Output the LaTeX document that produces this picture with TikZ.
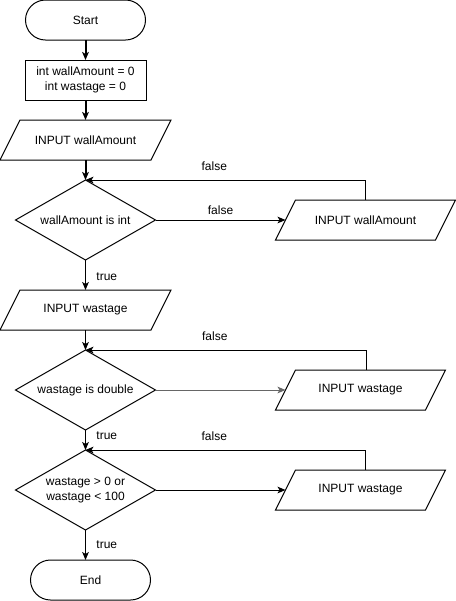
\documentclass[tikz,border=0pt]{standalone}
\usepackage{fontspec}
\setmainfont{Liberation Sans}
\usetikzlibrary{arrows.meta,positioning,shapes.geometric}

\begin{document}
\begin{tikzpicture}[x=0.75pt,y=-0.75pt,node distance=15pt,
    font=\fontsize{9}{11}\selectfont,
    term/.style={draw,rounded corners=15pt,minimum width=90pt,minimum height=30pt,
                 outer sep=0pt,line width=.75pt},
    proc/.style={draw,minimum width=90.75pt,minimum height=30pt,align=center,
                 outer sep=0pt,line width=.75pt},
    io/.style={minimum height=30pt,outer sep=0pt},
    dec/.style={draw,diamond,aspect=1.75,minimum width=105pt,minimum height=60pt,
                inner sep=0pt,outer sep=0pt,align=center,line width=.75pt},
    arr/.style={-{Stealth[length=6pt,width=5pt,inset=1.5pt]},line width=.75pt},
    bold/.style={arr,line width=1.5pt},
    lbl/.style={font=\fontsize{9}{11}\selectfont}]
    \useasboundingbox (0,0) rectangle (456,601);
    \node[term] (start) at (85.5,20) {Start};
    \node[proc,below=of start] (init) {int wallAmount = 0\\int wastage = 0};
    \node[io,minimum width=113.25pt,below=of init] (in1) {INPUT wallAmount};
    \node[dec,below=of in1] (dec1) {wallAmount is int};
    \node[io,minimum width=120pt,right=97.5pt of dec1] (re1) {INPUT wallAmount};
    \node[io,minimum width=113.25pt,below=22.5pt of dec1] (in2) {INPUT wastage};
    \node[dec,below=of in2] (dec2) {wastage is double};
    \node[io,minimum width=112.5pt,right=97.5pt of dec2] (re2) {INPUT wastage};
    \node[dec,below=of dec2] (dec3) {wastage > 0 or\\wastage < 100};
    \node[io,minimum width=112.5pt,right=97.5pt of dec3] (re3) {INPUT wastage};
    \node[term,below=22.5pt of dec3,xshift=3.75pt] (end) {End};
    % slanted outline of the input boxes
    \foreach \n in {in1,re1,in2,re2,re3}
      \draw[line width=.75pt] ([xshift=-7.5pt]\n.south west) -- ([xshift=7.5pt]\n.north west)
        -- ([xshift=7.5pt]\n.north east) -- ([xshift=-7.5pt]\n.south east) -- cycle;
    \draw[bold] (start) -- (init);
    \draw[bold] (init) -- (in1);
    \draw[bold] (in1) -- (dec1);
    \draw[arr] (dec1) -- node[lbl,above=0pt]{false} (re1);
    \draw[arr] (re1.north) |- node[lbl,above=3pt,pos=.77]{false} (dec1.north);
    \draw[arr] (dec1) -- node[lbl,right=4.5pt,pos=.55]{true} (in2);
    \draw[arr] (in2) -- (dec2);
    \draw[arr,black!60] (dec2) -- (re2);
    \draw[arr] ([xshift=4.5pt]re2.north) |- node[lbl,above=3pt,pos=.77]{false} (dec2.north);
    \draw[arr] (dec2) -- node[lbl,right=4.5pt,pos=.3]{true} (dec3);
    \draw[arr] (dec3) -- (re3);
    \draw[arr] ([xshift=3.75pt]re3.north) |- node[lbl,above=3pt,pos=.77]{false} (dec3.north);
    \draw[arr] (dec3) -- node[lbl,right=4.5pt]{true} (dec3 |- end.north);
\end{tikzpicture}
\end{document}
